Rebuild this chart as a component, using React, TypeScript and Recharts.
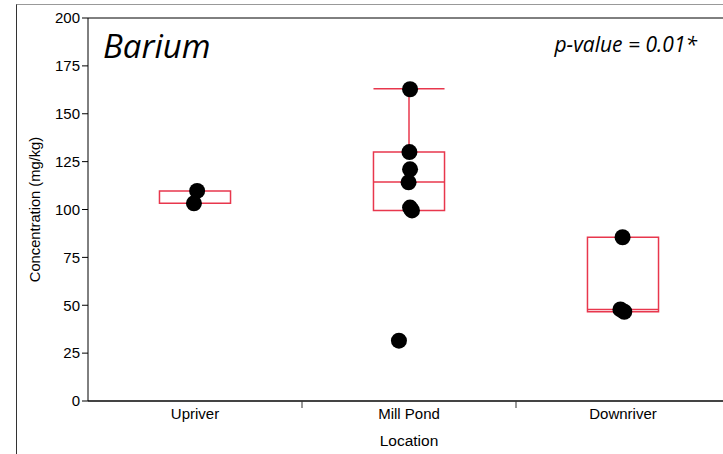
import {
  ComposedChart,
  Scatter,
  XAxis,
  YAxis,
  ReferenceArea,
  ReferenceLine,
  Label,
} from "recharts";

const categories = ["Upriver", "Mill Pond", "Downriver"];
const upriverValues = [109.7, 103.2];
const millPondValues = [162.8, 130, 121, 114.2, 101, 99.5, 31.5];
const downriverValues = [85.5, 47.8, 46.6];
// horizontal jitter of each point, in category widths
const upriverJitter = [0.01, -0.005];
const millPondJitter = [0.005, 0.002, 0.005, -0.002, 0.005, 0.014, -0.047];
const downriverJitter = [-0.002, -0.012, 0.006];

const boxQ1 = [103.2, 99.5, 46.6];
const boxMedian: (number | null)[] = [null, 114.4, 47.8];
const boxQ3 = [109.7, 130, 85.5];
const whiskerHigh: (number | null)[] = [null, 163, null];

const yTicks = [0, 25, 50, 75, 100, 125, 150, 175, 200];
const xTicks = [0.5, 1, 1.5, 2, 2.5, 3];

const RED = "#e8374d";
const HALF = 0.166;
const FONT = "Liberation Sans, Arial, sans-serif";

const groups = [
  { values: upriverValues, jitter: upriverJitter },
  { values: millPondValues, jitter: millPondJitter },
  { values: downriverValues, jitter: downriverJitter },
];

const points = groups.flatMap((g, i) =>
  g.values.map((v, j) => ({ x: i + 0.5 + g.jitter[j], y: v }))
);

const XTick = (props: any) => {
  const { x, y, payload } = props;
  const v = payload.value;
  if (Number.isInteger(v)) {
    return <line x1={x} x2={x} y1={y - 8} y2={y - 1} stroke="#333" strokeWidth={1} />;
  }
  return (
    <text x={x} y={y + 10} textAnchor="middle" fontSize={15} fill="#000" fontFamily={FONT}>
      {categories[Math.floor(v)]}
    </text>
  );
};

const Dot = (props: any) => <circle cx={props.cx} cy={props.cy} r={8} fill="#000" />;

const YLabel = (props: any) => {
  const { viewBox } = props;
  const cx = viewBox.x + 15;
  const cy = viewBox.y + viewBox.height / 2;
  return (
    <text x={cx} y={cy} transform={`rotate(-90, ${cx}, ${cy})`} textAnchor="middle" dominantBaseline="central" fontSize={14.7} fill="#000" fontFamily={FONT}>
      Concentration (mg/kg)
    </text>
  );
};

export default function App() {
  return (
    <div style={{ position: "absolute", left: 0, top: 0, width: 723, height: 454, overflow: "hidden", background: "#fff" }}>
      <div style={{ position: "absolute", left: 16, top: 4, width: 720, height: 460, borderLeft: "1px solid #333", borderTop: "1px solid #999" }} />
      <ComposedChart
        width={740}
        height={454}
        margin={{ top: 18, right: 10, bottom: 0, left: 20 }}
        style={{ position: "absolute", left: 0, top: 0, fontFamily: FONT }}
      >
        <XAxis
          type="number"
          dataKey="x"
          domain={[0, 3]}
          ticks={xTicks}
          interval={0}
          height={53}
          tick={<XTick />}
          tickLine={false}
          axisLine={{ stroke: "#444", strokeWidth: 2 }}
          allowDataOverflow
        >
          <Label value="Location" position="insideBottom" offset={8} fontSize={15.5} fill="#000" />
        </XAxis>
        <YAxis
          type="number"
          dataKey="y"
          domain={[0, 200]}
          ticks={yTicks}
          interval={0}
          width={68}
          tickSize={6}
          tick={{ fontSize: 15, fill: "#000" }}
          tickLine={{ stroke: "#000" }}
          axisLine={{ stroke: "#000" }}
          allowDataOverflow
        >
          <Label content={<YLabel />} />
        </YAxis>
        <ReferenceLine y={200} stroke="#000" strokeWidth={1} />
        {categories.map((c, i) => (
          <ReferenceArea
            key={c}
            x1={i + 0.5 - HALF}
            x2={i + 0.5 + HALF}
            y1={boxQ1[i]}
            y2={boxQ3[i]}
            fill="none"
            fillOpacity={0}
            stroke={RED}
            strokeWidth={1.5}
          />
        ))}
        {categories.map((c, i) =>
          boxMedian[i] != null ? (
            <ReferenceLine
              key={c + "med"}
              segment={[{ x: i + 0.5 - HALF, y: boxMedian[i] as number }, { x: i + 0.5 + HALF, y: boxMedian[i] as number }]}
              stroke={RED}
              strokeWidth={1.5}
            />
          ) : null
        )}
        {categories.map((c, i) =>
          whiskerHigh[i] != null ? (
            <ReferenceLine
              key={c + "wv"}
              segment={[{ x: i + 0.5, y: boxQ3[i] }, { x: i + 0.5, y: whiskerHigh[i] as number }]}
              stroke={RED}
              strokeWidth={1.5}
            />
          ) : null
        )}
        {categories.map((c, i) =>
          whiskerHigh[i] != null ? (
            <ReferenceLine
              key={c + "wc"}
              segment={[{ x: i + 0.5 - HALF, y: whiskerHigh[i] as number }, { x: i + 0.5 + HALF, y: whiskerHigh[i] as number }]}
              stroke={RED}
              strokeWidth={1.5}
            />
          ) : null
        )}
        <Scatter data={points} shape={<Dot />} isAnimationActive={false} />
      </ComposedChart>
      <svg width={723} height={454} style={{ position: "absolute", left: 0, top: 0, pointerEvents: "none" }}>
        <text x={103} y={58} fontSize={33} fontStyle="italic" fontFamily="Open Sans, Noto Sans, sans-serif" fill="#000">
          Barium
        </text>
        <text x={697} y={52} textAnchor="end" fontSize={21} fontStyle="italic" fontFamily="Open Sans, Noto Sans, sans-serif" fill="#000">
          p-value = 0.01*
        </text>
      </svg>
    </div>
  );
}
